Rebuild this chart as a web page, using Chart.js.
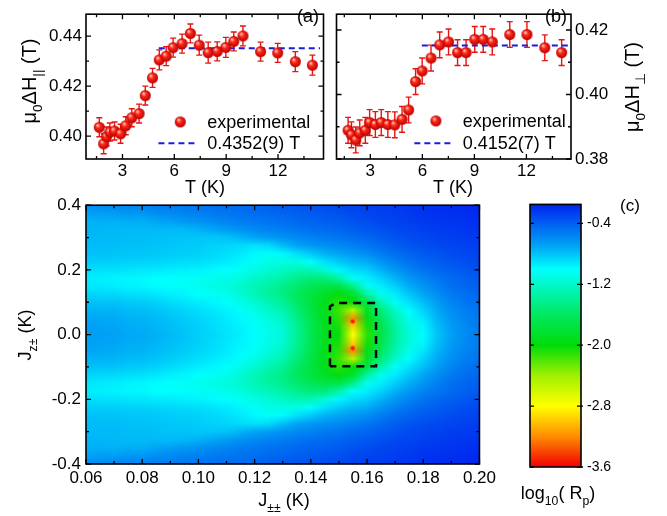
<!DOCTYPE html>
<html>
<head>
<meta charset="utf-8">
<script src="https://cdn.jsdelivr.net/npm/chart.js@4.4.0/dist/chart.umd.min.js"></script>
<style>
html, body { margin: 0; padding: 0; background: #fff; }
#wrap { position: relative; width: 667px; height: 516px; overflow: hidden; }
.box { position: absolute; }
</style>
</head>
<body>
<div id="wrap">
  <div class="box" style="left:0;top:0;width:330px;height:200px"><canvas id="chartA"></canvas></div>
  <div class="box" style="left:330px;top:0;width:337px;height:200px"><canvas id="chartB"></canvas></div>
  <div class="box" style="left:0;top:190px;width:500px;height:326px"><canvas id="chartC"></canvas></div>
  <div class="box" style="left:500px;top:190px;width:167px;height:326px"><canvas id="chartD"></canvas></div>
</div>
<script>
// panel (a): parallel field
const tempA = [1.66, 1.91, 2.08, 2.27, 2.54, 2.89, 3.19, 3.54, 3.96, 4.32, 4.74, 5.13, 5.53, 5.93, 6.45, 6.93, 7.44, 7.96, 8.48, 8.98, 9.44, 9.97, 10.99, 11.98, 13.0, 13.99];
const fieldA = [0.4035, 0.3969, 0.3998, 0.4016, 0.4020, 0.4009, 0.4041, 0.4073, 0.4090, 0.4162, 0.4233, 0.4305, 0.4320, 0.4354, 0.4370, 0.4411, 0.4364, 0.4334, 0.4339, 0.4355, 0.4379, 0.4401, 0.4338, 0.4333, 0.4298, 0.4284];
const errA = [0.0038, 0.0040, 0.0038, 0.0036, 0.0036, 0.0038, 0.0036, 0.0036, 0.0038, 0.0038, 0.0038, 0.0040, 0.0038, 0.0038, 0.0038, 0.0038, 0.0040, 0.0042, 0.0038, 0.0040, 0.0038, 0.0040, 0.0038, 0.0038, 0.0040, 0.0040];
const fitTempA = [5.1, 14.43];
const fitA = 0.4352;

// panel (b): perpendicular field
const tempB = [1.72, 1.91, 2.16, 2.39, 2.71, 2.96, 3.29, 3.63, 4.01, 4.41, 4.83, 5.21, 5.61, 5.99, 6.50, 7.00, 7.51, 8.03, 8.52, 9.02, 9.51, 10.03, 11.04, 12.03, 13.06, 14.03];
const fieldB = [0.3889, 0.3875, 0.3859, 0.3881, 0.3889, 0.3913, 0.3907, 0.3913, 0.3907, 0.3906, 0.3923, 0.3952, 0.4040, 0.4073, 0.4113, 0.4154, 0.4163, 0.4130, 0.4130, 0.4171, 0.4171, 0.4163, 0.4186, 0.4186, 0.4145, 0.4130];
const errB = [0.0040, 0.0040, 0.0040, 0.0040, 0.0040, 0.0040, 0.0040, 0.0040, 0.0040, 0.0040, 0.0040, 0.0040, 0.0040, 0.0040, 0.0040, 0.0040, 0.0040, 0.0040, 0.0040, 0.0040, 0.0040, 0.0040, 0.0040, 0.0040, 0.0040, 0.0040];
const fitTempB = [5.97, 14.44];
const fitB = 0.4152;

// ticks
const tempTicks = [3, 6, 9, 12];
const tempMinor = [1.5, 4.5, 7.5, 10.5, 13.5];
const fieldATicks = [0.40, 0.42, 0.44];
const fieldAMinor = [0.41, 0.43];
const fieldBTicks = [0.38, 0.40, 0.42];
const fieldBMinor = [0.39, 0.41];

// panel (c): log10(Rp) map, rows from Jz=0.4 down to -0.4, columns along Jpm
const jpm = [0.06, 0.065, 0.07, 0.075, 0.08, 0.085, 0.09, 0.095, 0.10, 0.105, 0.11, 0.115, 0.12, 0.125, 0.13, 0.135, 0.14, 0.145, 0.15, 0.155, 0.16, 0.165, 0.17, 0.175, 0.18, 0.185, 0.19, 0.195, 0.20];
const jz = [0.4, 0.375, 0.35, 0.325, 0.3, 0.275, 0.25, 0.225, 0.2, 0.175, 0.15, 0.125, 0.1, 0.075, 0.05, 0.025, 0, -0.025, -0.05, -0.075, -0.1, -0.125, -0.15, -0.175, -0.2, -0.225, -0.25, -0.275, -0.3, -0.325, -0.35, -0.375, -0.4];
const logRp = [
  [-.60,-.59,-.57,-.56,-.55,-.53,-.52,-.50,-.49,-.47,-.46,-.45,-.43,-.40,-.38,-.36,-.34,-.32,-.30,-.28,-.26,-.25,-.24,-.22,-.21,-.19,-.18,-.17,-.16],
  [-.68,-.67,-.66,-.64,-.63,-.60,-.58,-.56,-.54,-.52,-.50,-.48,-.46,-.44,-.42,-.40,-.38,-.36,-.34,-.31,-.29,-.27,-.26,-.24,-.22,-.21,-.20,-.19,-.18],
  [-.74,-.74,-.74,-.73,-.73,-.70,-.68,-.65,-.62,-.59,-.56,-.53,-.51,-.49,-.47,-.44,-.42,-.40,-.38,-.35,-.32,-.30,-.28,-.26,-.24,-.23,-.22,-.21,-.20],
  [-.75,-.76,-.76,-.77,-.77,-.77,-.77,-.76,-.74,-.70,-.66,-.62,-.58,-.55,-.53,-.50,-.47,-.45,-.43,-.40,-.37,-.34,-.31,-.29,-.27,-.25,-.24,-.23,-.22],
  [-.76,-.77,-.77,-.78,-.78,-.79,-.80,-.80,-.81,-.81,-.80,-.75,-.70,-.66,-.62,-.58,-.55,-.52,-.50,-.46,-.43,-.39,-.35,-.32,-.30,-.28,-.26,-.25,-.24],
  [-.77,-.78,-.78,-.79,-.79,-.80,-.81,-.82,-.83,-.85,-.86,-.88,-.90,-.88,-.78,-.70,-.65,-.61,-.58,-.54,-.50,-.45,-.40,-.36,-.33,-.31,-.29,-.27,-.26],
  [-.79,-.80,-.80,-.81,-.81,-.82,-.83,-.84,-.85,-.87,-.89,-.93,-.98,-1.03,-.98,-.90,-.82,-.74,-.70,-.65,-.60,-.53,-.47,-.42,-.38,-.35,-.32,-.30,-.28],
  [-.83,-.84,-.84,-.85,-.85,-.86,-.87,-.88,-.89,-.91,-.93,-.97,-1.03,-1.09,-1.10,-1.10,-1.02,-.90,-.82,-.76,-.72,-.63,-.55,-.48,-.43,-.39,-.36,-.33,-.31],
  [-.89,-.90,-.90,-.91,-.92,-.93,-.94,-.95,-.96,-.98,-1.00,-1.04,-1.10,-1.16,-1.22,-1.28,-1.28,-1.15,-.97,-.88,-.84,-.74,-.64,-.56,-.49,-.44,-.40,-.37,-.34],
  [-.94,-.95,-.96,-.97,-.98,-1.00,-1.01,-1.02,-1.04,-1.06,-1.08,-1.13,-1.20,-1.27,-1.33,-1.42,-1.50,-1.50,-1.32,-1.02,-.94,-.85,-.74,-.64,-.56,-.50,-.45,-.41,-.38],
  [-.92,-.93,-.94,-.96,-.97,-.99,-1.01,-1.03,-1.06,-1.09,-1.12,-1.18,-1.27,-1.35,-1.43,-1.55,-1.65,-1.72,-1.72,-1.45,-1.05,-.94,-.84,-.72,-.63,-.54,-.47,-.43,-.40],
  [-.86,-.87,-.87,-.89,-.90,-.92,-.95,-.97,-1.00,-1.04,-1.08,-1.16,-1.27,-1.37,-1.46,-1.60,-1.74,-1.86,-1.98,-1.85,-1.35,-1.06,-.93,-.81,-.70,-.60,-.52,-.47,-.43],
  [-.79,-.80,-.80,-.82,-.83,-.85,-.88,-.91,-.94,-.97,-1.01,-1.08,-1.17,-1.29,-1.40,-1.58,-1.75,-1.93,-2.10,-2.00,-1.72,-1.30,-1.03,-.90,-.78,-.66,-.56,-.50,-.46],
  [-.74,-.75,-.75,-.77,-.78,-.80,-.83,-.86,-.89,-.92,-.96,-1.02,-1.09,-1.20,-1.30,-1.50,-1.72,-1.92,-2.15,-2.50,-1.88,-1.50,-1.20,-.99,-.85,-.71,-.60,-.54,-.49],
  [-.70,-.71,-.72,-.74,-.75,-.77,-.80,-.83,-.86,-.89,-.93,-.98,-1.04,-1.13,-1.22,-1.44,-1.68,-1.92,-2.10,-3.20,-1.95,-1.62,-1.30,-1.06,-.92,-.75,-.63,-.56,-.51],
  [-.68,-.69,-.70,-.72,-.73,-.75,-.78,-.81,-.84,-.88,-.92,-.96,-1.01,-1.09,-1.17,-1.40,-1.66,-1.90,-2.05,-2.95,-2.05,-1.70,-1.36,-1.12,-.97,-.78,-.66,-.58,-.52],
  [-.67,-.68,-.69,-.71,-.72,-.74,-.77,-.80,-.84,-.87,-.91,-.95,-1.00,-1.07,-1.15,-1.40,-1.65,-1.90,-2.00,-2.80,-2.10,-1.72,-1.38,-1.14,-.99,-.80,-.67,-.59,-.53],
  [-.68,-.69,-.70,-.72,-.73,-.75,-.78,-.81,-.84,-.88,-.92,-.96,-1.01,-1.09,-1.17,-1.40,-1.66,-1.90,-2.05,-2.95,-2.05,-1.70,-1.36,-1.12,-.97,-.78,-.66,-.58,-.52],
  [-.70,-.71,-.72,-.74,-.75,-.77,-.80,-.83,-.86,-.89,-.93,-.98,-1.04,-1.13,-1.22,-1.44,-1.68,-1.92,-2.10,-3.20,-1.95,-1.62,-1.30,-1.06,-.92,-.75,-.63,-.56,-.51],
  [-.74,-.75,-.75,-.77,-.78,-.80,-.83,-.86,-.89,-.92,-.96,-1.02,-1.09,-1.20,-1.30,-1.50,-1.72,-1.92,-2.15,-2.50,-1.88,-1.50,-1.20,-.99,-.85,-.71,-.60,-.54,-.49],
  [-.79,-.80,-.80,-.82,-.83,-.85,-.88,-.91,-.94,-.97,-1.01,-1.08,-1.17,-1.29,-1.40,-1.58,-1.75,-1.93,-2.10,-2.00,-1.72,-1.30,-1.03,-.90,-.78,-.66,-.56,-.50,-.46],
  [-.86,-.87,-.87,-.89,-.90,-.92,-.95,-.97,-1.00,-1.04,-1.08,-1.16,-1.27,-1.37,-1.46,-1.60,-1.74,-1.86,-1.98,-1.85,-1.35,-1.06,-.93,-.81,-.70,-.60,-.52,-.47,-.43],
  [-.92,-.93,-.94,-.96,-.97,-.99,-1.01,-1.03,-1.06,-1.09,-1.12,-1.18,-1.27,-1.35,-1.43,-1.55,-1.65,-1.72,-1.72,-1.45,-1.05,-.94,-.84,-.72,-.63,-.54,-.47,-.43,-.40],
  [-.94,-.95,-.96,-.97,-.98,-1.00,-1.01,-1.02,-1.04,-1.06,-1.08,-1.13,-1.20,-1.27,-1.33,-1.42,-1.50,-1.50,-1.32,-1.02,-.94,-.85,-.74,-.64,-.56,-.50,-.45,-.41,-.38],
  [-.89,-.90,-.90,-.91,-.92,-.93,-.94,-.95,-.96,-.98,-1.00,-1.04,-1.10,-1.16,-1.22,-1.28,-1.28,-1.15,-.97,-.88,-.84,-.74,-.64,-.56,-.49,-.44,-.40,-.37,-.34],
  [-.83,-.84,-.84,-.85,-.85,-.86,-.87,-.88,-.89,-.91,-.93,-.97,-1.03,-1.09,-1.10,-1.10,-1.02,-.90,-.82,-.76,-.72,-.63,-.55,-.48,-.43,-.39,-.36,-.33,-.31],
  [-.79,-.80,-.80,-.81,-.81,-.82,-.83,-.84,-.85,-.87,-.89,-.93,-.98,-1.03,-.98,-.90,-.82,-.74,-.70,-.65,-.60,-.53,-.47,-.42,-.38,-.35,-.32,-.30,-.28],
  [-.77,-.78,-.78,-.79,-.79,-.80,-.81,-.82,-.83,-.85,-.86,-.88,-.90,-.88,-.78,-.70,-.65,-.61,-.58,-.54,-.50,-.45,-.40,-.36,-.33,-.31,-.29,-.27,-.26],
  [-.76,-.77,-.77,-.78,-.78,-.79,-.80,-.80,-.81,-.81,-.80,-.75,-.70,-.66,-.62,-.58,-.55,-.52,-.50,-.46,-.43,-.39,-.35,-.32,-.30,-.28,-.26,-.25,-.24],
  [-.75,-.76,-.76,-.77,-.77,-.77,-.77,-.76,-.74,-.70,-.66,-.62,-.58,-.55,-.53,-.50,-.47,-.45,-.43,-.40,-.37,-.34,-.31,-.29,-.27,-.25,-.24,-.23,-.22],
  [-.74,-.74,-.74,-.73,-.73,-.70,-.68,-.65,-.62,-.59,-.56,-.53,-.51,-.49,-.47,-.44,-.42,-.40,-.38,-.35,-.32,-.30,-.28,-.26,-.24,-.23,-.22,-.21,-.20],
  [-.68,-.67,-.66,-.64,-.63,-.60,-.58,-.56,-.54,-.52,-.50,-.48,-.46,-.44,-.42,-.40,-.38,-.36,-.34,-.31,-.29,-.27,-.26,-.24,-.22,-.21,-.20,-.19,-.18],
  [-.60,-.59,-.57,-.56,-.55,-.53,-.52,-.50,-.49,-.47,-.46,-.45,-.43,-.40,-.38,-.36,-.34,-.32,-.30,-.28,-.26,-.25,-.24,-.22,-.21,-.19,-.18,-.17,-.16]
];
// the two best-fit minima and the dashed selection box
const minJpm = [0.1549, 0.1549];
const minJz = [0.041, -0.042];
const boxJpm = [0.1468, 0.1468, 0.149, 0.1632, 0.1632, 0.1468];
const boxJz = [-0.098, 0.087, 0.098, 0.098, -0.098, -0.098];
const jpmTicks = [0.06, 0.08, 0.10, 0.12, 0.14, 0.16, 0.18, 0.20];
const jpmMinor = [0.07, 0.09, 0.11, 0.13, 0.15, 0.17, 0.19];
const jzTicks = [-0.4, -0.2, 0, 0.2, 0.4];
const jzMinor = [-0.3, -0.1, 0.1, 0.3];

// colour scale
const cbarTicks = [-0.4, -1.2, -2.0, -2.8, -3.6];
const cbarRange = [-3.6, -0.15];
const cmapStops = [-3.6, -3.2, -2.8, -2.4, -2.0, -1.6, -1.3, -1.0, -0.7, -0.4, -0.15];
const cmapColors = [[240,0,0],[255,140,0],[255,255,0],[160,240,0],[0,220,10],[0,232,95],[0,245,175],[0,255,255],[0,165,245],[0,95,240],[0,35,240]];

const FONT = "'Liberation Sans', Arial, Helvetica, sans-serif";
Chart.defaults.font.family = FONT;
Chart.defaults.color = '#000';
const RED = '#e8140f';
const BLUE = '#1a1ae0';

function colorFor(v) {
  if (v <= cmapStops[0]) return cmapColors[0];
  for (let i = 1; i < cmapStops.length; i++) {
    if (v <= cmapStops[i]) {
      const f = (v - cmapStops[i - 1]) / (cmapStops[i] - cmapStops[i - 1]);
      const a = cmapColors[i - 1], b = cmapColors[i];
      return [0, 1, 2].map(k => Math.round(a[k] + (b[k] - a[k]) * f));
    }
  }
  return cmapColors[cmapColors.length - 1];
}

// shaded red ball for the data points
function makeSphere(r) {
  const c = document.createElement('canvas');
  const s = Math.ceil(r * 2) + 2;
  c.width = c.height = s;
  const g = c.getContext('2d');
  const m = s / 2;
  const grad = g.createRadialGradient(m - r * 0.35, m - r * 0.4, r * 0.1, m, m, r);
  grad.addColorStop(0, '#ffc0b0');
  grad.addColorStop(0.35, '#ff2a1a');
  grad.addColorStop(1, '#b80000');
  g.fillStyle = grad;
  g.beginPath();
  g.arc(m, m, r, 0, Math.PI * 2);
  g.fill();
  return c;
}
const sphere = makeSphere(5.5);

function rich(ctx, parts, x, y, size, rot) {
  ctx.save();
  ctx.translate(x, y);
  if (rot) ctx.rotate(rot);
  ctx.fillStyle = '#000';
  ctx.textBaseline = 'alphabetic';
  let w = 0;
  parts.forEach(p => {
    ctx.font = (p.sub ? size * 0.68 : size) + 'px ' + FONT;
    w += ctx.measureText(p.t).width;
  });
  let cx = -w / 2;
  parts.forEach(p => {
    ctx.font = (p.sub ? size * 0.68 : size) + 'px ' + FONT;
    ctx.fillText(p.t, cx, size * 0.36 + (p.sub ? size * 0.28 : 0));
    cx += ctx.measureText(p.t).width;
  });
  ctx.restore();
}

function titles(items) {
  return {
    id: 'titles',
    afterDraw(chart) {
      items.forEach(it => rich(chart.ctx, it.parts, it.x, it.y, it.size, it.rot));
    }
  };
}

// black frame with inward ticks on all four sides
function frame(xMaj, xMin, yMaj, yMin, majLen, minLen) {
  return {
    id: 'frame',
    afterDatasetsDraw(chart) {
      const { ctx, chartArea: a, scales } = chart;
      ctx.save();
      ctx.strokeStyle = '#000';
      ctx.lineWidth = 1.3;
      ctx.beginPath();
      const xt = (vals, len) => vals.forEach(v => {
        const p = scales.x.getPixelForValue(v);
        ctx.moveTo(p, a.bottom); ctx.lineTo(p, a.bottom - len);
        ctx.moveTo(p, a.top); ctx.lineTo(p, a.top + len);
      });
      const yt = (vals, len) => vals.forEach(v => {
        const p = scales.y.getPixelForValue(v);
        ctx.moveTo(a.left, p); ctx.lineTo(a.left + len, p);
        ctx.moveTo(a.right, p); ctx.lineTo(a.right - len, p);
      });
      xt(xMaj, majLen); xt(xMin, minLen); yt(yMaj, majLen); yt(yMin, minLen);
      ctx.stroke();
      ctx.lineWidth = 1.6;
      ctx.strokeRect(a.left, a.top, a.width, a.height);
      ctx.restore();
    }
  };
}

function errorBars(vals, errs) {
  return {
    id: 'errorBars',
    beforeDatasetsDraw(chart) {
      const { ctx, scales } = chart;
      const pts = chart.data.datasets[0].data;
      ctx.save();
      ctx.strokeStyle = RED;
      ctx.lineWidth = 1.4;
      ctx.beginPath();
      pts.forEach((p, i) => {
        const x = scales.x.getPixelForValue(p.x);
        const y0 = scales.y.getPixelForValue(vals[i] - errs[i]);
        const y1 = scales.y.getPixelForValue(vals[i] + errs[i]);
        ctx.moveTo(x, y0); ctx.lineTo(x, y1);
        ctx.moveTo(x - 3, y0); ctx.lineTo(x + 3, y0);
        ctx.moveTo(x - 3, y1); ctx.lineTo(x + 3, y1);
      });
      ctx.stroke();
      ctx.restore();
    }
  };
}

function inLegend(pos) {
  return {
    id: 'inLegend',
    afterDatasetsDraw(chart) {
      const { ctx, chartArea: a } = chart;
      const ds = chart.data.datasets;
      const y1 = a.top + a.height * pos.row1, y2 = a.top + a.height * pos.row2;
      const tx = a.left + a.width * pos.text;
      ctx.save();
      ctx.drawImage(sphere, a.left + a.width * pos.dot - sphere.width / 2, y1 - sphere.height / 2);
      ctx.strokeStyle = BLUE;
      ctx.lineWidth = 2;
      ctx.setLineDash([6, 4]);
      ctx.beginPath();
      ctx.moveTo(a.left + a.width * pos.l0, y2);
      ctx.lineTo(a.left + a.width * pos.l1, y2);
      ctx.stroke();
      ctx.setLineDash([]);
      ctx.fillStyle = '#000';
      ctx.font = '18px ' + FONT;
      ctx.textBaseline = 'middle';
      ctx.fillText(ds[0].label, tx, y1 + 1);
      ctx.fillText(ds[1].label, tx, y2 + 1);
      ctx.restore();
    }
  };
}

function setTicks(vals) {
  return s => { s.ticks = vals.map(v => ({ value: v })); };
}

function fieldChart(id, temps, vals, errs, fitT, fitV, fitLabel, yRange, yTicks, yMinor, xRange, side, pad, legendPos, extra) {
  return new Chart(document.getElementById(id), {
    type: 'scatter',
    data: {
      datasets: [
        {
          label: 'experimental',
          data: temps.map((t, i) => ({ x: t, y: vals[i] })),
          pointStyle: sphere,
          pointRadius: 5.5,
          order: 0
        },
        {
          label: fitLabel,
          data: fitT.map(t => ({ x: t, y: fitV })),
          showLine: true,
          pointRadius: 0,
          borderColor: BLUE,
          borderWidth: 2,
          borderDash: [6, 4],
          order: 1
        }
      ]
    },
    options: {
      responsive: true,
      maintainAspectRatio: false,
      animation: false,
      layout: { padding: pad },
      plugins: { legend: { display: false }, tooltip: { enabled: false } },
      scales: {
        x: {
          type: 'linear', min: xRange[0], max: xRange[1],
          grid: { display: false, drawTicks: false }, border: { display: false },
          afterBuildTicks: setTicks(tempTicks),
          afterFit: s => { s.height = 41; },
          ticks: { padding: 2, font: { size: 17 }, maxRotation: 0, autoSkip: false }
        },
        y: {
          type: 'linear', position: side, min: yRange[0], max: yRange[1],
          grid: { display: false, drawTicks: false }, border: { display: false },
          afterBuildTicks: setTicks(yTicks),
          afterFit: s => { s.width = side === 'left' ? 86 : 96; },
          ticks: { padding: 4, font: { size: 17 }, autoSkip: false, callback: v => v.toFixed(2) }
        }
      }
    },
    plugins: [errorBars(vals, errs), frame(tempTicks, tempMinor, yTicks, yMinor, 5, 3), inLegend(legendPos), titles(extra)]
  });
}

fieldChart('chartA', tempA, fieldA, errA, fitTempA, fitA, '0.4352(9) T',
  [0.3908, 0.4488], fieldATicks, fieldAMinor, [0.89, 14.63], 'left',
  { top: 3, right: 5, left: 0, bottom: 0 },
  { dot: 0.397, text: 0.51, row1: 0.744, row2: 0.891, l0: 0.305, l1: 0.464 },
  [
    { parts: [{ t: 'μ' }, { t: '0', sub: true }, { t: 'ΔH' }, { t: '||', sub: true }, { t: ' (T)' }], x: 29, y: 81, size: 20, rot: -Math.PI / 2 },
    { parts: [{ t: 'T (K)' }], x: 205, y: 187, size: 18 },
    { parts: [{ t: '(a)' }], x: 308, y: 16, size: 18 }
  ]);

fieldChart('chartB', tempB, fieldB, errB, fitTempB, fitB, '0.4152(7) T',
  [0.38, 0.4249], fieldBTicks, fieldBMinor, [1.05, 14.57], 'right',
  { top: 3, right: 0, left: 3, bottom: 0 },
  { dot: 0.424, text: 0.538, row1: 0.737, row2: 0.891, l0: 0.332, l1: 0.492 },
  [
    { parts: [{ t: 'μ' }, { t: '0', sub: true }, { t: 'ΔH' }, { t: '⊥', sub: true }, { t: ' (T)' }], x: 302, y: 87, size: 20, rot: -Math.PI / 2 },
    { parts: [{ t: 'T (K)' }], x: 123, y: 187, size: 18 },
    { parts: [{ t: '(b)' }], x: 226, y: 16, size: 18 }
  ]);

const heatmap = {
  id: 'heatmap',
  beforeDatasetsDraw(chart) {
    const { ctx, chartArea: a, scales: { x, y } } = chart;
    const nx = jpm.length, ny = jz.length;
    const img = document.createElement('canvas');
    img.width = nx; img.height = ny;
    const ic = img.getContext('2d');
    const im = ic.createImageData(nx, ny);
    for (let r = 0; r < ny; r++) {
      for (let c = 0; c < nx; c++) {
        const col = colorFor(logRp[r][c]);
        const k = (r * nx + c) * 4;
        im.data[k] = col[0]; im.data[k + 1] = col[1]; im.data[k + 2] = col[2]; im.data[k + 3] = 255;
      }
    }
    ic.putImageData(im, 0, 0);
    const hx = (jpm[1] - jpm[0]) / 2, hy = (jz[0] - jz[1]) / 2;
    const x0 = x.getPixelForValue(jpm[0] - hx), x1 = x.getPixelForValue(jpm[nx - 1] + hx);
    const y0 = y.getPixelForValue(jz[0] + hy), y1 = y.getPixelForValue(jz[ny - 1] - hy);
    ctx.save();
    ctx.beginPath();
    ctx.rect(a.left, a.top, a.width, a.height);
    ctx.clip();
    ctx.imageSmoothingEnabled = true;
    ctx.imageSmoothingQuality = 'medium';
    ctx.drawImage(img, x0, y0, x1 - x0, y1 - y0);
    ctx.restore();
  }
};

new Chart(document.getElementById('chartC'), {
  type: 'scatter',
  data: {
    datasets: [
      {
        label: 'minima',
        data: minJpm.map((v, i) => ({ x: v, y: minJz[i] })),
        pointRadius: 2.2,
        pointBackgroundColor: '#ff1a00',
        pointBorderColor: '#ff6a00',
        pointBorderWidth: 0.8,
        order: 0
      },
      {
        label: 'box',
        data: boxJpm.map((v, i) => ({ x: v, y: boxJz[i] })),
        showLine: true,
        pointRadius: 0,
        borderColor: '#000',
        borderWidth: 2.5,
        borderDash: [8, 6],
        order: 1
      }
    ]
  },
  options: {
    responsive: true,
    maintainAspectRatio: false,
    animation: false,
    layout: { padding: { top: 13, right: 16, left: 0, bottom: 0 } },
    plugins: { legend: { display: false }, tooltip: { enabled: false } },
    scales: {
      x: {
        type: 'linear', min: 0.06, max: 0.20,
        grid: { display: false, drawTicks: false }, border: { display: false },
        afterBuildTicks: setTicks(jpmTicks),
        afterFit: s => { s.height = 52; },
        ticks: { padding: 4, font: { size: 17 }, maxRotation: 0, autoSkip: false, callback: v => v.toFixed(2) }
      },
      y: {
        type: 'linear', min: -0.4, max: 0.4,
        grid: { display: false, drawTicks: false }, border: { display: false },
        afterBuildTicks: setTicks(jzTicks),
        afterFit: s => { s.width = 86; },
        ticks: { padding: 5, font: { size: 17 }, autoSkip: false, callback: v => v.toFixed(1) }
      }
    }
  },
  plugins: [heatmap, frame(jpmTicks, jpmMinor, jzTicks, jzMinor, 5, 3), titles([
    { parts: [{ t: 'J' }, { t: 'z±', sub: true }, { t: ' (K)' }], x: 25, y: 145, size: 18, rot: -Math.PI / 2 },
    { parts: [{ t: 'J' }, { t: '±±', sub: true }, { t: ' (K)' }], x: 284, y: 310, size: 18 }
  ])]
});

const cbarFrame = {
  id: 'cbarFrame',
  afterDatasetsDraw(chart) {
    const { ctx, chartArea: a, scales } = chart;
    ctx.save();
    ctx.strokeStyle = '#000';
    ctx.lineWidth = 1.3;
    ctx.beginPath();
    cbarTicks.forEach(v => {
      const p = scales.y.getPixelForValue(v);
      ctx.moveTo(a.left, p); ctx.lineTo(a.left + 4, p);
      ctx.moveTo(a.right - 4, p); ctx.lineTo(a.right + 2, p);
    });
    ctx.stroke();
    ctx.lineWidth = 1.6;
    ctx.strokeRect(a.left, a.top, a.width, a.height);
    ctx.restore();
  }
};

new Chart(document.getElementById('chartD'), {
  type: 'bar',
  data: {
    labels: ['log10(Rp)'],
    datasets: [{
      data: [cbarRange],
      barPercentage: 1,
      categoryPercentage: 1,
      borderWidth: 0,
      backgroundColor: ctx => {
        const { chart } = ctx;
        const { chartArea, scales } = chart;
        if (!chartArea) return '#0f0';
        const p0 = scales.y.getPixelForValue(cbarRange[0]);
        const p1 = scales.y.getPixelForValue(cbarRange[1]);
        const g = chart.ctx.createLinearGradient(0, p0, 0, p1);
        cmapStops.forEach((v, i) => {
          const f = Math.min(1, Math.max(0, (v - cbarRange[0]) / (cbarRange[1] - cbarRange[0])));
          const c = cmapColors[i];
          g.addColorStop(f, 'rgb(' + c[0] + ',' + c[1] + ',' + c[2] + ')');
        });
        return g;
      }
    }]
  },
  options: {
    responsive: true,
    maintainAspectRatio: false,
    animation: false,
    layout: { padding: { top: 13, right: 0, left: 30, bottom: 49 } },
    plugins: { legend: { display: false }, tooltip: { enabled: false } },
    scales: {
      x: { display: false },
      y: {
        position: 'right', min: cbarRange[0], max: cbarRange[1],
        grid: { display: false, drawTicks: false }, border: { display: false },
        afterBuildTicks: setTicks(cbarTicks),
        afterFit: s => { s.width = 86; },
        ticks: { padding: 6, font: { size: 14 }, autoSkip: false, callback: v => v.toFixed(1) }
      }
    }
  },
  plugins: [cbarFrame, titles([
    { parts: [{ t: 'log' }, { t: '10', sub: true }, { t: '( R' }, { t: 'p', sub: true }, { t: ')' }], x: 58, y: 303, size: 18 },
    { parts: [{ t: '(c)' }], x: 130, y: 15, size: 17 }
  ])]
});
</script>
</body>
</html>
